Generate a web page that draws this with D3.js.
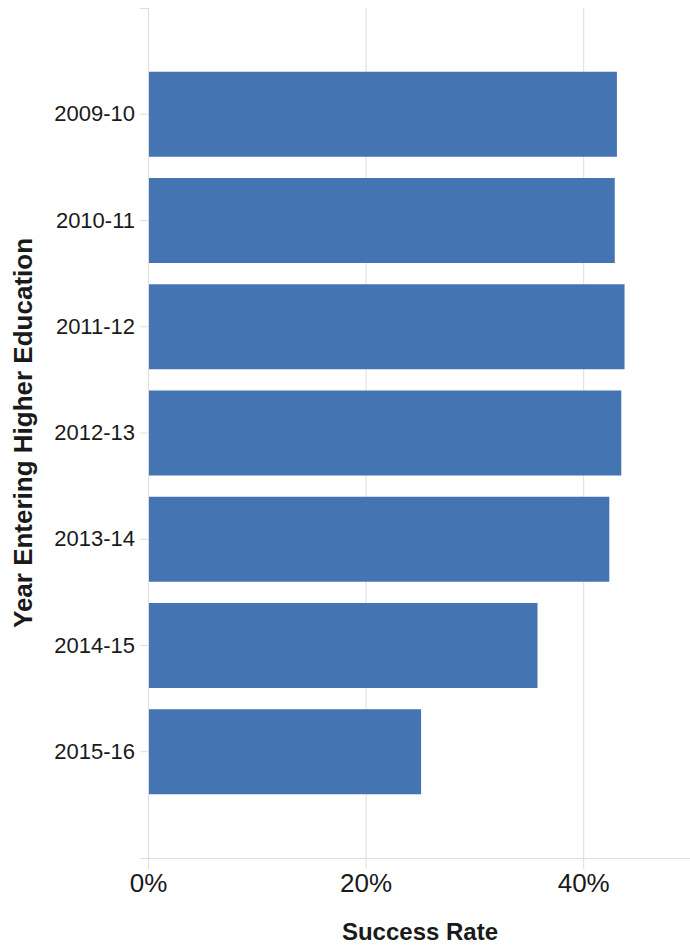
<!DOCTYPE html>
<html>
<head>
<meta charset="utf-8">
<script src="https://cdn.jsdelivr.net/npm/d3@7"></script>
<style>
  body { margin: 0; background: #fff; }
  svg { display: block; font-family: "Liberation Sans", Arial, sans-serif; }
</style>
</head>
<body>
<div id="chart"></div>
<script>
const years = ['2009-10', '2010-11', '2011-12', '2012-13', '2013-14', '2014-15', '2015-16'];
const successRate = [0.431, 0.429, 0.438, 0.435, 0.424, 0.358, 0.251];
const xTicks = [0, 0.2, 0.4];

const width = 690, height = 945;
const plotLeft = 148, plotRight = 692, plotTop = 8, plotBottom = 858;

const svg = d3.select('#chart').append('svg')
  .attr('width', width)
  .attr('height', height);

const x = d3.scaleLinear().domain([0, 0.5]).range([plotLeft, plotRight]);
const y = d3.scaleBand().domain(years).range([plotTop, plotBottom])
  .paddingInner(0.2).paddingOuter(0.6);

// grid
svg.append('g').selectAll('line')
  .data(xTicks)
  .join('line')
  .attr('x1', d => x(d) + 0.5).attr('x2', d => x(d) + 0.5)
  .attr('y1', plotTop).attr('y2', plotBottom)
  .attr('stroke', '#ddd').attr('stroke-width', 1);

// bars
svg.append('g').selectAll('rect')
  .data(years.map((yr, i) => ({ yr, v: successRate[i] })))
  .join('rect')
  .attr('x', x(0) + 1)
  .attr('y', d => y(d.yr))
  .attr('width', d => x(d.v) - x(0) - 1)
  .attr('height', y.bandwidth())
  .attr('fill', '#4574b3');

// x axis
const xAxis = svg.append('g')
  .attr('transform', `translate(0,${plotBottom})`)
  .call(d3.axisBottom(x).tickValues(xTicks).tickFormat(d3.format('.0%')).tickSize(11).tickSizeOuter(0).tickPadding(5));
xAxis.select('.domain').attr('stroke', '#ddd').attr('d', `M${plotLeft - 8},0.5H${plotRight}`);
xAxis.selectAll('.tick line').attr('stroke', '#ddd');
xAxis.selectAll('.tick text').attr('font-size', 26).attr('fill', '#1a1a1a')
  .attr('font-family', '"Liberation Sans", Arial, sans-serif');

// y axis
const yAxis = svg.append('g')
  .attr('transform', `translate(${plotLeft},0)`)
  .call(d3.axisLeft(y).tickSize(8).tickSizeOuter(8).tickPadding(5));
yAxis.select('.domain').attr('stroke', '#ddd');
yAxis.selectAll('.tick line').attr('stroke', '#ddd');
yAxis.selectAll('.tick text').attr('font-size', 22).attr('fill', '#1a1a1a')
  .attr('font-family', '"Liberation Sans", Arial, sans-serif');

// titles
svg.append('text')
  .attr('x', (plotLeft + plotRight) / 2)
  .attr('y', 940)
  .attr('text-anchor', 'middle')
  .attr('font-size', 24)
  .attr('font-weight', 'bold')
  .attr('fill', '#1a1a1a')
  .text('Success Rate');

svg.append('text')
  .attr('transform', `translate(32,${(plotTop + plotBottom) / 2}) rotate(-90)`)
  .attr('text-anchor', 'middle')
  .attr('font-size', 26)
  .attr('font-weight', 'bold')
  .attr('fill', '#1a1a1a')
  .text('Year Entering Higher Education');
</script>
</body>
</html>
